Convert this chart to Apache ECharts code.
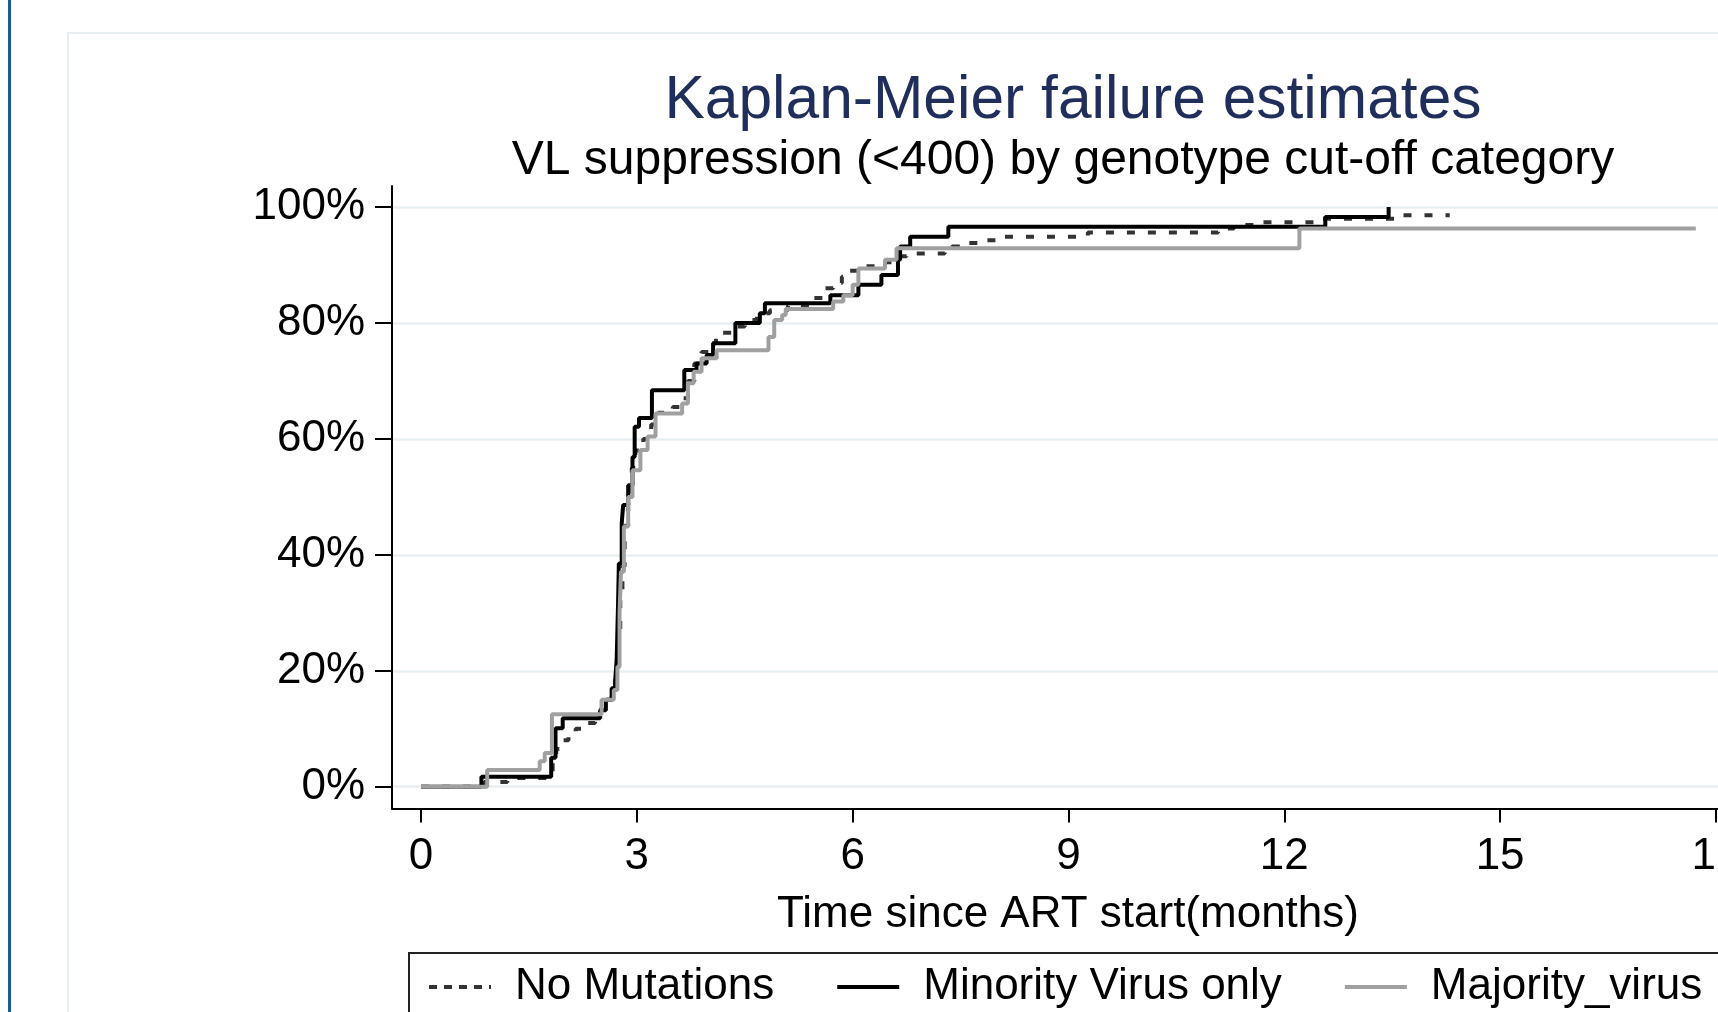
<!DOCTYPE html>
<html>
<head>
<meta charset="utf-8">
<title>Kaplan-Meier failure estimates</title>
<script src="https://cdn.jsdelivr.net/npm/echarts@6/dist/echarts.min.js"></script>
<style>
  html, body { margin: 0; padding: 0; background: #fff; }
  #chart { width: 1718px; height: 1012px; }
</style>
</head>
<body>
<div id="chart"></div>
<script>
// time since ART start (months) and cumulative failure for each group
var noMutTime = [0, 0.88, 1.2, 1.78, 1.83, 1.88, 1.95, 2.05, 2.15, 2.3,
    2.42, 2.5, 2.58, 2.65, 2.7, 2.74, 2.77, 2.8, 2.83, 2.88,
    2.93, 2.98, 3.09, 3.2, 3.3, 3.5, 3.62, 3.71, 3.8, 3.9,
    4.0, 4.1, 4.2, 4.34, 4.5, 4.67, 4.85, 5.1, 5.41, 5.59,
    5.73, 5.85, 5.95, 6.1, 6.4, 6.6, 6.75, 7.28, 7.38, 7.6,
    7.82, 8.04, 9.27, 11.08, 11.3, 11.66, 12.53, 13.59, 14.3];
var noMutFail = [0, 0.008, 0.015, 0.025, 0.045, 0.065, 0.08, 0.09, 0.10, 0.11,
    0.12, 0.135, 0.15, 0.175, 0.20, 0.26, 0.33, 0.38, 0.45, 0.50,
    0.55, 0.58, 0.60, 0.625, 0.645, 0.655, 0.67, 0.70, 0.73, 0.75,
    0.765, 0.775, 0.783, 0.794, 0.805, 0.817, 0.822, 0.83, 0.843, 0.86,
    0.869, 0.88, 0.89, 0.898, 0.905, 0.915, 0.92, 0.926, 0.932, 0.938,
    0.943, 0.949, 0.956, 0.963, 0.969, 0.974, 0.98, 0.986, 0.986];

var minorTime = [0, 0.84, 1.81, 1.87, 1.97, 2.49, 2.57, 2.65, 2.70, 2.72,
    2.73, 2.74, 2.75, 2.79, 2.81, 2.88, 2.94, 2.97, 3.03, 3.21,
    3.66, 3.83, 3.97, 4.06, 4.37, 4.71, 4.78, 5.69, 6.08, 6.40,
    6.63, 6.66, 6.80, 7.33, 12.57, 13.45];
var minorFail = [0, 0.017, 0.05, 0.101, 0.118, 0.132, 0.15, 0.17, 0.184, 0.22,
    0.27, 0.32, 0.385, 0.454, 0.486, 0.52, 0.569, 0.621, 0.636, 0.684,
    0.719, 0.73, 0.745, 0.765, 0.80, 0.817, 0.834, 0.848, 0.866, 0.883,
    0.909, 0.932, 0.949, 0.966, 0.983, 1.0];

var majorTime = [0, 0.92, 1.65, 1.72, 1.82, 2.51, 2.68, 2.73, 2.76, 2.78,
    2.82, 2.88, 2.94, 3.05, 3.15, 3.26, 3.63, 3.71, 3.79, 3.90,
    4.11, 4.83, 4.91, 5.02, 5.07, 5.73, 5.87, 6.00, 6.08, 6.45,
    6.61, 12.21, 17.72];
var majorFail = [0, 0.029, 0.044, 0.058, 0.125, 0.15, 0.167, 0.207, 0.30, 0.371,
    0.449, 0.50, 0.546, 0.581, 0.604, 0.644, 0.661, 0.696, 0.716, 0.739,
    0.753, 0.776, 0.805, 0.814, 0.824, 0.837, 0.848, 0.866, 0.894, 0.909,
    0.929, 0.963, 0.963];

var groupNames = ['No Mutations', 'Minority Virus only', 'Majority_virus'];
var xTicks = [0, 3, 6, 9, 12, 15, 18];
var yTicks = [0, 0.2, 0.4, 0.6, 0.8, 1];

var font = '"Liberation Sans", Arial, Helvetica, sans-serif';

function pairs(t, v) {
    return t.map(function (x, i) { return [x, v[i]]; });
}

var chart = echarts.init(document.getElementById('chart'));

chart.setOption({
    backgroundColor: '#fff',
    animation: false,
    textStyle: { fontFamily: font },
    title: [{
        text: 'Kaplan-Meier failure estimates',
        left: 1068, top: 66, textAlign: 'center',
        textStyle: { fontSize: 60.5, fontWeight: 'normal', color: '#1f2e5a', fontFamily: font }
    }, {
        text: 'VL suppression (<400) by genotype cut-off category',
        left: 1058, top: 132, textAlign: 'center',
        textStyle: { fontSize: 48, fontWeight: 'normal', color: '#000', fontFamily: font }
    }],
    graphic: [{
        type: 'rect', silent: true, z: -10,
        shape: { x: 8, y: -5, width: 3, height: 1030 },
        style: { fill: '#1a5b93' }
    }, {
        type: 'rect', silent: true, z: -10,
        shape: { x: 68, y: 33, width: 2000, height: 2000 },
        style: { fill: 'none', stroke: '#e6eef1', lineWidth: 2 }
    }],
    legend: {
        data: [
            { name: groupNames[0], lineStyle: { type: [8, 7] } },
            { name: groupNames[1] },
            { name: groupNames[2] }
        ],
        left: 409, top: 953, width: 1500,
        padding: [12, 40, 40, 18],
        itemGap: 61,
        itemWidth: 62, itemHeight: 14,
        itemStyle: { opacity: 0 },
        lineStyle: { width: 4 },
        borderColor: '#222', borderWidth: 2,
        textStyle: { fontSize: 44, color: '#000', fontFamily: font, padding: [0, 0, 0, 19] }
    },
    grid: { left: 392, top: 186, width: 1352, bottom: 203.4, outerBoundsMode: 'none' },
    xAxis: {
        type: 'value',
        min: -0.403, max: 18.39,
        name: 'Time since ART start(months)',
        nameLocation: 'middle', nameGap: 84,
        nameTextStyle: { fontSize: 44, color: '#000', fontFamily: font },
        axisLine: { onZero: false, lineStyle: { color: '#000', width: 2 } },
        axisTick: { customValues: xTicks, length: 14, lineStyle: { color: '#000', width: 2 } },
        axisLabel: { customValues: xTicks, margin: 26, fontSize: 44, color: '#000', fontFamily: font },
        splitLine: { show: false }
    },
    yAxis: {
        type: 'value',
        min: -0.0378, max: 1.0364,
        axisLine: { show: true, onZero: false, lineStyle: { color: '#000', width: 2 } },
        axisTick: { show: true, customValues: yTicks, length: 17, lineStyle: { color: '#000', width: 2 } },
        axisLabel: {
            customValues: yTicks, margin: 27, fontSize: 44, color: '#000', fontFamily: font,
            formatter: function (v) { return Math.round(v * 100) + '%'; }
        },
        splitLine: { show: true, lineStyle: { color: '#e8eff2', width: 2.5 } }
    },
    series: [{
        name: groupNames[0], type: 'line', step: 'end', showSymbol: false, symbol: 'none',
        data: pairs(noMutTime, noMutFail),
        lineStyle: { color: '#333', width: 4, type: [8, 13] },
        itemStyle: { color: '#333' }
    }, {
        name: groupNames[1], type: 'line', step: 'end', showSymbol: false, symbol: 'none',
        data: pairs(minorTime, minorFail),
        lineStyle: { color: '#000', width: 4 },
        itemStyle: { color: '#000' }
    }, {
        name: groupNames[2], type: 'line', step: 'end', showSymbol: false, symbol: 'none',
        data: pairs(majorTime, majorFail),
        lineStyle: { color: '#a0a0a0', width: 4 },
        itemStyle: { color: '#a0a0a0' }
    }]
});
</script>
</body>
</html>
